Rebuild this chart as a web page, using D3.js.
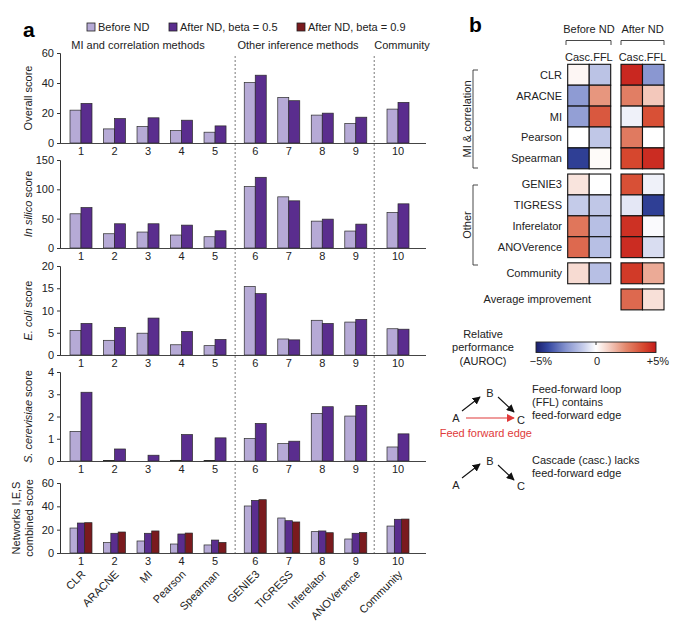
<!DOCTYPE html>
<html><head><meta charset="utf-8">
<script src="https://cdn.jsdelivr.net/npm/d3@7/dist/d3.min.js"></script>
<style>
html,body{margin:0;padding:0;background:#fff;}
svg{display:block;font-family:"Liberation Sans",Arial,Helvetica,sans-serif;}
</style></head>
<body><svg id="c" width="685" height="633"></svg>
<script>
// ---------- DATA ----------
const categories = ["CLR","ARACNE","MI","Pearson","Spearman","GENIE3","TIGRESS","Inferelator","ANOVerence","Community"];
const catNumbers = ["1","2","3","4","5","6","7","8","9","10"];
const catGroup = [0,0,0,0,0,1,1,1,1,2];
const sectionNames = ["MI and correlation methods","Other inference methods","Community"];
const seriesNames = ["Before ND","After ND, beta = 0.5","After ND, beta = 0.9"];

const overallBefore = [21.9, 9.4, 11.0, 8.3, 7.2, 40.3, 30.4, 18.6, 13.0, 22.6];
const overallAfter05 = [26.4, 16.3, 16.8, 15.2, 11.4, 45.2, 28.2, 19.9, 17.2, 27.1];
const insilicoBefore = [58.3, 24.3, 27.2, 22.1, 19.2, 104.7, 87.2, 45.8, 28.9, 60.6];
const insilicoAfter05 = [69.0, 41.3, 41.3, 39.0, 29.4, 120.5, 80.4, 49.2, 40.7, 75.3];
const ecoliBefore = [5.5, 3.3, 4.9, 2.3, 2.1, 15.4, 3.6, 7.8, 7.4, 5.9];
const ecoliAfter05 = [7.1, 6.2, 8.3, 5.3, 3.5, 13.8, 3.4, 7.1, 8.0, 5.8];
const scerBefore = [1.33, 0.02, 0.0, 0.03, 0.02, 1.01, 0.78, 2.14, 2.02, 0.63];
const scerAfter05 = [3.09, 0.54, 0.26, 1.19, 1.04, 1.69, 0.89, 2.44, 2.50, 1.22];
const combinedBefore = [21.4, 8.9, 10.3, 7.7, 6.9, 40.3, 30.0, 18.3, 12.0, 23.1];
const combinedAfter05 = [25.7, 16.9, 16.9, 16.3, 11.1, 45.1, 27.7, 18.9, 16.9, 28.9];
const combinedAfter09 = [26.0, 18.0, 18.9, 17.1, 9.1, 45.7, 26.6, 17.4, 17.7, 29.1];

const overallTicks = [0,20,40,60];
const insilicoTicks = [0,50,100,150];
const ecoliTicks = [0,5,10,15,20];
const scerTicks = [0,1,2,3,4];
const combinedTicks = [0,20,40,60];

// heatmap (relative AUROC change, %)
const heatRows = ["CLR","ARACNE","MI","Pearson","Spearman","GENIE3","TIGRESS","Inferelator","ANOVerence","Community"];
const heatRowBlock = [0,0,0,0,0,1,1,1,1,2];
const heatBlockNames = ["MI & correlation","Other"];
const heatColumns = ["Casc.","FFL"];
const heatBeforeCasc = [0.2, -2.3, -2.2, 0.0, -4.2, 0.6, -1.1, 2.9, 3.2, 0.8];
const heatBeforeFFL = [-1.3, 2.2, 3.6, -1.2, 0.1, 0.0, -1.2, -1.4, -1.4, -1.4];
const heatAfterCasc = [4.7, 2.7, -0.3, 2.8, 4.0, 3.8, -0.5, 4.5, 4.6, 4.3];
const heatAfterFFL = [-2.4, 1.2, 3.8, 0.0, 4.6, -0.3, -4.2, -0.1, -0.7, 1.8];
const avgImprovement = [3.2, 0.7];
const colorbarTicks = [-5, 0, 5];
const colorbarLabels = ["\u22125%", "0", "+5%"];

// ---------- DRAW ----------
const svg = d3.select("#c");
svg.append("rect").attr("width",685).attr("height",633).attr("fill","#fff");
const FS = 10.5;
const txt = "#222";
const colors = ["#b6aad6", "#5a2d8e", "#7a1a1e"];

// x positions with gaps between method groups
const groupGap = [0, 0.2, 0.46];
const slot = i => i + groupGap[catGroup[i]];
const x = d3.scaleLinear().domain([0, 9.46]).range([81, 398]);
const axisLeft = 60, axisRight = 426;

// legend
const leg = svg.append("g");
const legX = [87, 169, 297];
seriesNames.forEach((s,i)=>{
  leg.append("rect").attr("x",legX[i]).attr("y",23).attr("width",8).attr("height",8)
    .attr("fill",colors[i]).attr("stroke","#222").attr("stroke-width",0.8);
  leg.append("text").attr("x",legX[i]+11).attr("y",31).attr("font-size",FS+0.5).attr("fill",txt).text(s);
});
svg.append("text").attr("x",23).attr("y",37).attr("font-size",21).attr("font-weight","bold").text("a");

// section headers
const secCenters = [138, 298, 402];
sectionNames.forEach((s,i)=>{
  svg.append("text").attr("x",secCenters[i]).attr("y",49).attr("text-anchor","middle")
   .attr("font-size",FS+0.5).attr("fill",txt).text(s);
});

const panels = [
  {top:53, bottom:143, max:60, ticks:overallTicks, series:[overallBefore, overallAfter05], label:[["Overall score",false]]},
  {top:160, bottom:248, max:150, ticks:insilicoTicks, series:[insilicoBefore, insilicoAfter05], label:[["In silico",true],[" score",false]]},
  {top:266, bottom:355, max:20, ticks:ecoliTicks, series:[ecoliBefore, ecoliAfter05], label:[["E. coli",true],[" score",false]]},
  {top:372, bottom:461, max:4, ticks:scerTicks, series:[scerBefore, scerAfter05], label:[["S. cerevisiae",true],[" score",false]]},
  {top:483, bottom:553, max:60, ticks:combinedTicks, series:[combinedBefore, combinedAfter05, combinedAfter09], label:null}
];

panels.forEach((p,pi)=>{
  const g = svg.append("g");
  const y = d3.scaleLinear().domain([0,p.max]).range([p.bottom,p.top]);
  const keys = p.series.map((d,i)=>i);
  const sub = d3.scaleBand().domain(keys).range([-11,11]);
  p.series.forEach((vals,si)=>{
    g.selectAll(null).data(vals).enter().append("rect")
      .attr("x",(d,i)=>x(slot(i))+sub(si))
      .attr("width",sub.bandwidth())
      .attr("y",d=>y(d))
      .attr("height",d=>Math.max(0,y(0)-y(d)))
      .attr("fill",colors[si]).attr("stroke","#2a2a2a").attr("stroke-width",0.7);
  });
  const ax = g.append("g").attr("transform",`translate(${axisLeft},0)`)
    .call(d3.axisLeft(y).tickValues(p.ticks).tickSize(3).tickPadding(3).tickFormat(d3.format("d")));
  ax.select(".domain").attr("stroke","#333");
  ax.selectAll(".tick line").attr("stroke","#333");
  ax.selectAll("text").attr("font-size",FS+0.5).attr("fill",txt).attr("font-family",null);
  g.append("line").attr("x1",axisLeft).attr("x2",axisRight).attr("y1",p.bottom+0.5).attr("y2",p.bottom+0.5)
    .attr("stroke","#444").attr("stroke-width",1);
  g.selectAll(null).data(catNumbers).enter().append("text")
    .attr("x",(d,i)=>x(slot(i))).attr("y",p.bottom+12).attr("text-anchor","middle")
    .attr("font-size",FS+0.5).attr("fill",txt).text(d=>d);
  const cy = (p.top+p.bottom)/2;
  if(p.label){
    const t = g.append("text").attr("transform",`translate(32,${cy}) rotate(-90)`)
      .attr("text-anchor","middle").attr("font-size",FS+0.5).attr("fill",txt);
    p.label.forEach(([s,it])=>t.append("tspan").attr("font-style",it?"italic":null).text(s));
  } else {
    g.append("text").attr("transform",`translate(20,${cy}) rotate(-90)`).attr("text-anchor","middle")
      .attr("font-size",FS+0.5).attr("fill",txt).text("Networks I,E,S");
    g.append("text").attr("transform",`translate(33,${cy}) rotate(-90)`).attr("text-anchor","middle")
      .attr("font-size",FS+0.5).attr("fill",txt).text("combined score");
  }
});

// dashed separators
[4.6, 8.75].forEach(s=>{
  svg.append("line").attr("x1",x(s)).attr("x2",x(s)).attr("y1",56).attr("y2",553)
    .attr("stroke","#555").attr("stroke-width",0.8).attr("stroke-dasharray","2,2");
});

// rotated category names
svg.selectAll(null).data(categories).enter().append("text")
  .attr("transform",(d,i)=>`translate(${x(slot(i))+5},${575}) rotate(-45)`)
  .attr("text-anchor","end").attr("font-size",FS+0.5).attr("fill",txt).text(d=>d);

// ---------- PANEL b ----------
svg.append("text").attr("x",469).attr("y",32).attr("font-size",21).attr("font-weight","bold").text("b");

const heatColor = d3.scaleLinear()
  .domain([-5,-4,-2.5,-1,0,1,2.5,4,5])
  .range(["#1a1f6b","#3447a0","#8593cf","#c9cfeb","#ffffff","#f5d2c7","#e3876c","#d6472e","#c41a1a"])
  .interpolate(d3.interpolateRgb);

const colX = [567.7, 589.2, 621, 642.5];
const cellW = 21.5, cellH = 20.9;
const rowSlot = i => i + 0.25*heatRowBlock[i];
const yRow = d3.scaleLinear().domain([0,1]).range([64.3, 64.3+cellH]);

const hb = svg.append("g");
const heatCols = [heatBeforeCasc, heatBeforeFFL, heatAfterCasc, heatAfterFFL];
heatCols.forEach((vals,ci)=>{
  hb.selectAll(null).data(vals).enter().append("rect")
    .attr("x",colX[ci]).attr("y",(d,i)=>yRow(rowSlot(i)))
    .attr("width",cellW).attr("height",cellH)
    .attr("fill",d=>heatColor(d)).attr("stroke","#111").attr("stroke-width",1.1);
});
const avgSlot = 10 + 0.25*3;
avgImprovement.forEach((v,ci)=>{
  hb.append("rect").attr("x",colX[2+ci]).attr("y",yRow(avgSlot)).attr("width",cellW).attr("height",cellH)
    .attr("fill",heatColor(v)).attr("stroke","#111").attr("stroke-width",1.1);
});
hb.selectAll(null).data(heatRows).enter().append("text")
  .attr("x",562).attr("y",(d,i)=>yRow(rowSlot(i)+0.5)+4).attr("text-anchor","end")
  .attr("font-size",FS+0.5).attr("fill",txt).text(d=>d);
hb.append("text").attr("x",591).attr("y",yRow(avgSlot+0.5)+4).attr("text-anchor","end")
  .attr("font-size",FS+0.5).attr("fill",txt).text("Average improvement");

[["Before ND",588.9,566,611],["After ND",642.5,621,664]].forEach(([s,cx,x1,x2])=>{
  hb.append("text").attr("x",cx).attr("y",33).attr("text-anchor","middle").attr("font-size",FS+0.5).attr("fill",txt).text(s);
  hb.append("path").attr("d",`M${x1},45V40.5H${x2}V45`).attr("fill","none").attr("stroke","#333").attr("stroke-width",0.9);
  hb.append("text").attr("x",cx).attr("y",61).attr("text-anchor","middle").attr("font-size",FS+0.5).attr("fill",txt)
    .text(heatColumns.join(""));
});

[[heatBlockNames[0],70,168],[heatBlockNames[1],185,265]].forEach(([s,y1,y2])=>{
  hb.append("path").attr("d",`M478,${y1}H473V${y2}H478`).attr("fill","none").attr("stroke","#333").attr("stroke-width",0.9);
  hb.append("text").attr("transform",`translate(467,${(y1+y2)/2}) rotate(-90)`).attr("dy","0.35em")
    .attr("text-anchor","middle").attr("font-size",FS+0.5).attr("fill",txt).text(s);
});

// colorbar
const defs = svg.append("defs");
const grad = defs.append("linearGradient").attr("id","cb").attr("x1","0%").attr("x2","100%");
d3.range(0,1.0001,0.05).forEach(t=>{
  grad.append("stop").attr("offset",(t*100)+"%").attr("stop-color",heatColor(-5+10*t));
});
const cbx = d3.scaleLinear().domain([-5,5]).range([536,656]);
svg.append("rect").attr("x",cbx(-5)).attr("y",342).attr("width",cbx(5)-cbx(-5)).attr("height",10.5)
  .attr("fill","url(#cb)").attr("stroke","#222").attr("stroke-width",0.9);
svg.append("line").attr("x1",cbx(0)).attr("x2",cbx(0)).attr("y1",342).attr("y2",345).attr("stroke","#333");
colorbarTicks.forEach((t,i)=>{
  svg.append("text").attr("x",cbx(t)+(i===0?5:i===2?2:1)).attr("y",365).attr("text-anchor","middle")
    .attr("font-size",FS+0.5).attr("fill",txt).text(colorbarLabels[i]);
});
["Relative","performance","(AUROC)"].forEach((s,i)=>{
  svg.append("text").attr("x",483).attr("y",338+i*13.3).attr("text-anchor","middle")
    .attr("font-size",FS+0.5).attr("fill",txt).text(s);
});

// motif diagrams
const mk = (id,col)=>{
  defs.append("marker").attr("id",id).attr("viewBox","0 0 10 10").attr("refX",9).attr("refY",5)
   .attr("markerWidth",8).attr("markerHeight",8).attr("markerUnits","userSpaceOnUse").attr("orient","auto")
   .append("path").attr("d","M0,0L10,5L0,10z").attr("fill",col);
};
mk("ab","#111"); mk("ar","#e03a3a");
const arrow = (x1,y1,x2,y2,col,id)=>svg.append("line").attr("x1",x1).attr("y1",y1).attr("x2",x2).attr("y2",y2)
  .attr("stroke",col).attr("stroke-width",1.1).attr("marker-end",`url(#${id})`);
const node = (s,cx,cy)=>svg.append("text").attr("x",cx).attr("y",cy+4).attr("text-anchor","middle")
  .attr("font-size",FS+0.5).attr("fill",txt).text(s);
node("B",490,393); node("A",456,418); node("C",521,420);
arrow(462,411,480,397,"#111","ab"); arrow(498,397,514,412,"#111","ab");
arrow(466,418,514,418,"#e03a3a","ar");
svg.append("text").attr("x",532).attr("y",436.5).attr("text-anchor","end").attr("font-size",FS+0.5)
  .attr("fill","#e03a3a").text("Feed forward edge");
["Feed-forward loop","(FFL) contains","feed-forward edge"].forEach((s,i)=>{
  svg.append("text").attr("x",532).attr("y",393+i*13.2).attr("font-size",FS+0.5).attr("fill",txt).text(s);
});
node("B",490,461); node("A",456,485); node("C",521,486);
arrow(462,478,480,464,"#111","ab"); arrow(498,465,514,480,"#111","ab");
["Cascade (casc.) lacks","feed-forward edge"].forEach((s,i)=>{
  svg.append("text").attr("x",532).attr("y",463.5+i*13.2).attr("font-size",FS+0.5).attr("fill",txt).text(s);
});
</script></body></html>
